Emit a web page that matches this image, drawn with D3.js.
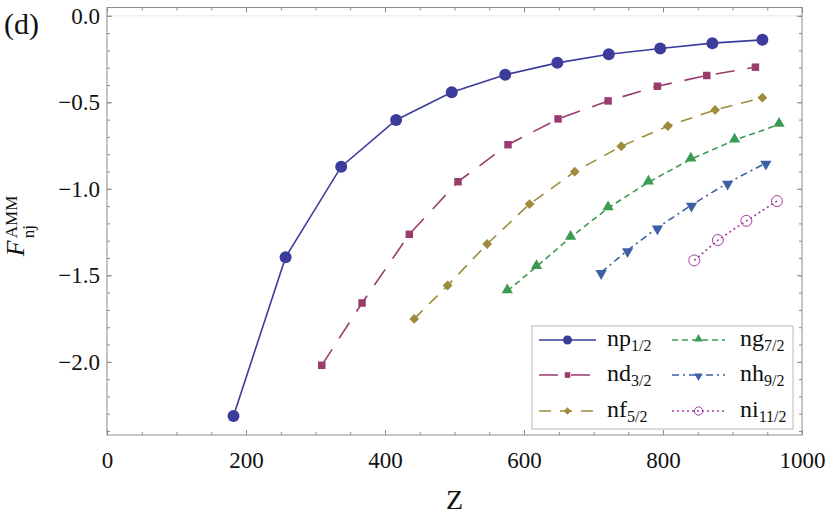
<!DOCTYPE html>
<html>
<head>
<meta charset="utf-8">
<script src="https://cdn.jsdelivr.net/npm/d3@7"></script>
<style>
  body { margin: 0; background: #fff; }
  text { font-family: "Liberation Serif", "Times New Roman", "DejaVu Serif", serif; }
</style>
</head>
<body>
<svg id="chart" width="830" height="519"></svg>
<script>
// Data (Z vs F_nj^AMM)
const npZ = [182, 257, 337, 416, 496, 573, 648, 722, 796, 871, 943];
const npF = [-2.313, -1.395, -0.872, -0.602, -0.442, -0.341, -0.272, -0.222, -0.189, -0.158, -0.139];
const ndZ = [309, 367, 435, 505, 577, 649, 721, 792, 863, 933];
const ndF = [-2.02, -1.66, -1.263, -0.959, -0.745, -0.596, -0.492, -0.407, -0.345, -0.297];
const nfZ = [442, 490, 547, 608, 673, 740, 807, 875, 943];
const nfF = [-1.752, -1.559, -1.319, -1.088, -0.901, -0.754, -0.637, -0.544, -0.473];
const ngZ = [576, 618, 667, 721, 779, 840, 903, 967];
const ngF = [-1.591, -1.45, -1.281, -1.111, -0.962, -0.829, -0.719, -0.628];
const nhZ = [711, 749, 792, 841, 893, 948];
const nhF = [-1.483, -1.356, -1.225, -1.094, -0.966, -0.851];
const niZ = [845, 879, 920, 964];
const niF = [-1.414, -1.296, -1.185, -1.071];

const xTicks = [0, 200, 400, 600, 800, 1000];
const yTicks = [0, -0.5, -1.0, -1.5, -2.0];

const svg = d3.select("#chart");

// Plot frame
const plotLeft = 107, plotRight = 802, plotTop = 7.5, plotBottom = 435;

const x = d3.scaleLinear().domain([0, 1000]).range([plotLeft, plotRight]);
const y = d3.scaleLinear().domain([0.048, -2.423]).range([plotTop, plotBottom]);

const frameColor = "#8c8c8c";

// faint line at zero
svg.append("line")
    .attr("x1", plotLeft).attr("x2", plotRight)
    .attr("y1", y(0)).attr("y2", y(0))
    .attr("stroke", "#e8e8e8").attr("stroke-width", 1);

// Minor ticks
const xMinor = d3.range(0, 1001, 50);
const yMinor = d3.range(0, -2.45, -0.1).map(v => +v.toFixed(2));

function styleAxis(g) {
    g.select(".domain").remove();
    g.selectAll(".tick line").attr("stroke", frameColor);
}

svg.append("g").attr("transform", `translate(0,${plotBottom})`)
    .call(d3.axisBottom(x).tickValues(xMinor).tickSize(-3).tickFormat(""))
    .call(styleAxis);
svg.append("g").attr("transform", `translate(0,${plotTop})`)
    .call(d3.axisTop(x).tickValues(xMinor).tickSize(-3).tickFormat(""))
    .call(styleAxis);
svg.append("g").attr("transform", `translate(${plotLeft},0)`)
    .call(d3.axisLeft(y).tickValues(yMinor).tickSize(-3).tickFormat(""))
    .call(styleAxis);
svg.append("g").attr("transform", `translate(${plotRight},0)`)
    .call(d3.axisRight(y).tickValues(yMinor).tickSize(-3).tickFormat(""))
    .call(styleAxis);

// Major ticks + labels
const fmtY = d => d === 0 ? "0.0" : "\u2212" + Math.abs(d).toFixed(1);

svg.append("g").attr("transform", `translate(0,${plotBottom})`)
    .call(d3.axisBottom(x).tickValues(xTicks).tickSize(-5).tickPadding(17).tickFormat(d3.format("d")))
    .call(styleAxis)
    .selectAll("text").attr("font-size", 23).attr("fill", "#111")
    .attr("font-family", "Liberation Serif");
svg.append("g").attr("transform", `translate(0,${plotTop})`)
    .call(d3.axisTop(x).tickValues(xTicks).tickSize(-5).tickFormat(""))
    .call(styleAxis);
svg.append("g").attr("transform", `translate(${plotLeft},0)`)
    .call(d3.axisLeft(y).tickValues(yTicks).tickSize(-5).tickPadding(7).tickFormat(fmtY))
    .call(styleAxis)
    .selectAll("text").attr("font-size", 23).attr("fill", "#111")
    .attr("font-family", "Liberation Serif");
svg.append("g").attr("transform", `translate(${plotRight},0)`)
    .call(d3.axisRight(y).tickValues(yTicks).tickSize(-5).tickFormat(""))
    .call(styleAxis);

// Frame
svg.append("rect")
    .attr("x", plotLeft).attr("y", plotTop)
    .attr("width", plotRight - plotLeft).attr("height", plotBottom - plotTop)
    .attr("fill", "none").attr("stroke", frameColor).attr("stroke-width", 1);

// Series definitions
const series = [
    {name: "np", sub: "1/2", z: npZ, f: npF, color: "#3c3c9c", dash: null, marker: "circle"},
    {name: "nd", sub: "3/2", z: ndZ, f: ndF, color: "#9b3c6e", dash: "19,13", marker: "square"},
    {name: "nf", sub: "5/2", z: nfZ, f: nfF, color: "#9e8c3c", dash: "12,9", marker: "diamond"},
    {name: "ng", sub: "7/2", z: ngZ, f: ngF, color: "#3c9b52", dash: "6,4", marker: "triangle"},
    {name: "nh", sub: "9/2", z: nhZ, f: nhF, color: "#3c5fa5", dash: "7,4,2,4", marker: "down"},
    {name: "ni", sub: "11/2", z: niZ, f: niF, color: "#a53ca5", dash: "2,3", marker: "open"}
];

function drawMarker(g, type, color, scale) {
    const s = scale || 1;
    if (type === "circle") {
        g.append("circle").attr("r", 6 * s).attr("fill", color);
    } else if (type === "square") {
        g.append("path").attr("d", d3.symbol(d3.symbolSquare, 56 * s * s)()).attr("fill", color);
    } else if (type === "diamond") {
        g.append("path").attr("d", d3.symbol(d3.symbolSquare, 48 * s * s)())
            .attr("transform", "rotate(45)").attr("fill", color);
    } else if (type === "triangle") {
        g.append("path").attr("d", d3.symbol(d3.symbolTriangle, 55 * s * s)())
            .attr("transform", "translate(0,-1)").attr("fill", color);
    } else if (type === "down") {
        g.append("path").attr("d", d3.symbol(d3.symbolTriangle, 55 * s * s)())
            .attr("transform", "translate(0,1) rotate(180)").attr("fill", color);
    } else if (type === "open") {
        g.append("circle").attr("r", 5.5 * s).attr("fill", "none")
            .attr("stroke", color).attr("stroke-width", 1);
    }
}

const line = d3.line().x(d => x(d[0])).y(d => y(d[1]));

series.forEach(s => {
    const pts = s.z.map((z, i) => [z, s.f[i]]);
    svg.append("path")
        .datum(pts)
        .attr("d", line)
        .attr("fill", "none")
        .attr("stroke", s.color)
        .attr("stroke-width", 1.6)
        .attr("stroke-dasharray", s.dash);
    pts.forEach(p => {
        const g = svg.append("g").attr("transform", `translate(${x(p[0])},${y(p[1])})`);
        drawMarker(g, s.marker, s.color, 1);
    });
});

// Legend
const legend = svg.append("g");
legend.append("rect")
    .attr("x", 532).attr("y", 326)
    .attr("width", 261).attr("height", 103)
    .attr("fill", "#fff").attr("stroke", "#d0d0d0").attr("stroke-width", 1.5);

const legCols = [{x1: 539, x2: 596, tx: 607}, {x1: 672, x2: 725, tx: 740}];
const legRows = [340, 375, 411];

series.forEach((s, i) => {
    const col = legCols[Math.floor(i / 3)];
    const ry = legRows[i % 3];
    legend.append("line")
        .attr("x1", col.x1).attr("x2", col.x2)
        .attr("y1", ry).attr("y2", ry)
        .attr("stroke", s.color).attr("stroke-width", 1.6)
        .attr("stroke-dasharray", s.dash);
    const g = legend.append("g").attr("transform", `translate(${(col.x1 + col.x2) / 2},${ry})`);
    drawMarker(g, s.marker, s.color, 0.75);
    const t = legend.append("text")
        .attr("x", col.tx).attr("y", ry + 6)
        .attr("font-size", 24).attr("fill", "#111");
    t.append("tspan").text(s.name);
    t.append("tspan").attr("dy", 5).attr("font-size", 16).text(s.sub);
});

// Panel label
svg.append("text").attr("x", 4).attr("y", 34)
    .attr("font-size", 30).attr("fill", "#111").text("(d)");

// X axis label
svg.append("text").attr("x", (plotLeft + plotRight) / 2).attr("y", 509)
    .attr("text-anchor", "middle").attr("font-size", 28).attr("fill", "#111").text("Z");

// Y axis label (F with stacked super/subscript)
const ylab = svg.append("g").attr("transform", `translate(24,${(plotTop + plotBottom) / 2 + 4}) rotate(-90)`);
ylab.append("text").attr("x", -31).attr("y", 0)
    .attr("font-size", 26).attr("font-style", "italic").attr("fill", "#111").text("F");
ylab.append("text").attr("x", -13).attr("y", -7)
    .attr("font-size", 17).attr("fill", "#111").text("AMM");
ylab.append("text").attr("x", -13).attr("y", 10)
    .attr("font-size", 17).attr("fill", "#111").text("nj");
</script>
</body>
</html>
